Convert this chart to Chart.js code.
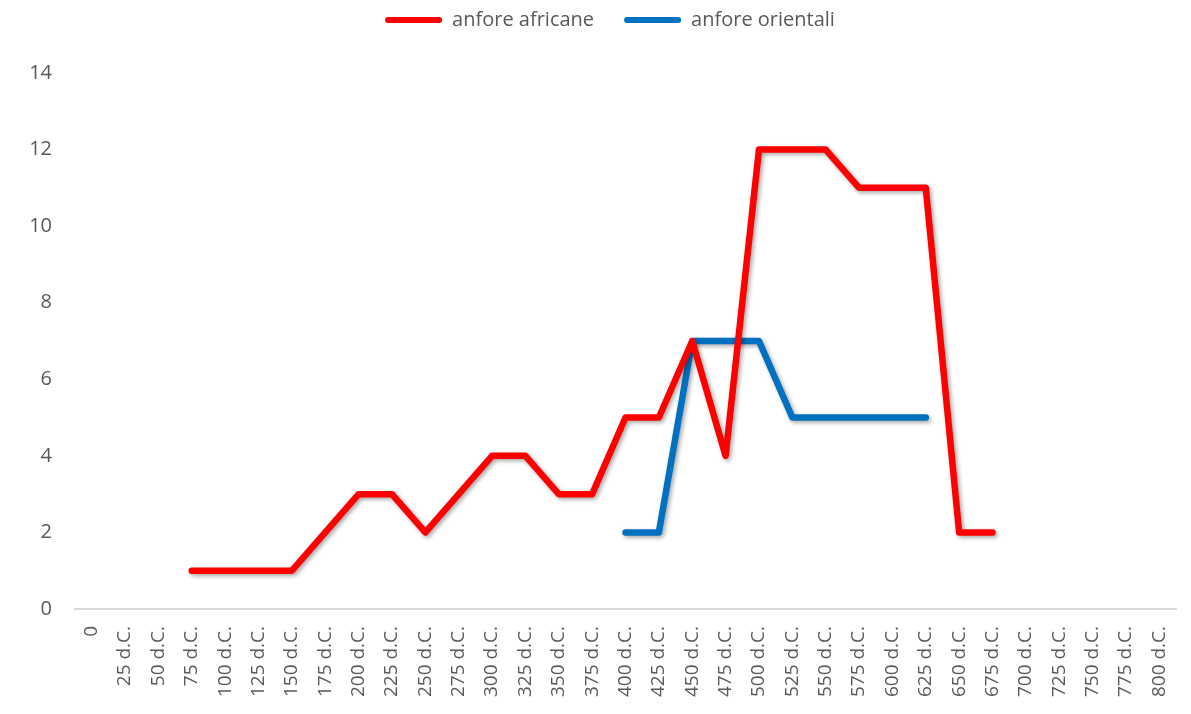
<!DOCTYPE html>
<html>
<head>
<meta charset="utf-8">
<script src="https://cdn.jsdelivr.net/npm/chart.js@4"></script>
<style>
    html, body { margin: 0; padding: 0; background: #fff; }
    #wrap { width: 1191px; height: 714px; }
</style>
</head>
<body>
<div id="wrap"><canvas id="myChart" width="1191" height="714"></canvas></div>
<script>
'use strict';

// categorie asse x
var labels = ['0', '25 d.C.', '50 d.C.', '75 d.C.', '100 d.C.', '125 d.C.', '150 d.C.', '175 d.C.',
    '200 d.C.', '225 d.C.', '250 d.C.', '275 d.C.', '300 d.C.', '325 d.C.', '350 d.C.', '375 d.C.',
    '400 d.C.', '425 d.C.', '450 d.C.', '475 d.C.', '500 d.C.', '525 d.C.', '550 d.C.', '575 d.C.',
    '600 d.C.', '625 d.C.', '650 d.C.', '675 d.C.', '700 d.C.', '725 d.C.', '750 d.C.', '775 d.C.',
    '800 d.C.'];

var africane = [null, null, null, 1, 1, 1, 1, 2, 3, 3, 2, 3, 4, 4, 3, 3, 5, 5, 7, 4, 12, 12, 12, 11,
    11, 11, 2, 2, null, null, null, null, null];

var orientali = [null, null, null, null, null, null, null, null, null, null, null, null, null, null,
    null, null, 2, 2, 7, 7, 7, 5, 5, 5, 5, 5, null, null, null, null, null, null, null];

var yTicks = [0, 2, 4, 6, 8, 10, 12, 14];

var grey = '#595959';
var fontFam = "'Open Sans', 'Liberation Sans', sans-serif";

// ombra sotto le linee (come in Excel)
var shadowPlugin = {
    id: 'shadow',
    beforeDatasetsDraw: function (chart) {
        var c = chart.ctx;
        c.save();
        c.shadowColor = 'rgba(0,0,0,0.35)';
        c.shadowBlur = 4;
        c.shadowOffsetX = 2;
        c.shadowOffsetY = 2;
    },
    afterDatasetsDraw: function (chart) {
        chart.ctx.restore();
    }
};

// spazio extra sotto la legenda + legenda spostata un po' a destra
var legendSpace = {
    id: 'legendSpace',
    beforeInit: function (chart) {
        var fitOrig = chart.legend.fit;
        chart.legend.fit = function () {
            fitOrig.bind(chart.legend)();
            this.height += 33;
        };
    },
    afterLayout: function (chart) {
        chart.legend.left += 44;
    }
};

var ctx = document.getElementById('myChart').getContext('2d');

var chart = new Chart(ctx, {
    type: 'line',
    data: {
        labels: labels,
        datasets: [{
            label: 'anfore africane',
            data: africane,
            borderColor: '#ff0000',
            backgroundColor: '#ff0000',
            borderWidth: 6.5,
            borderCapStyle: 'round',
            borderJoinStyle: 'round',
            pointRadius: 0,
            tension: 0
        },
        {
            label: 'anfore orientali',
            data: orientali,
            borderColor: '#0070c0',
            backgroundColor: '#0070c0',
            borderWidth: 6.5,
            borderCapStyle: 'round',
            borderJoinStyle: 'round',
            pointRadius: 0,
            tension: 0
        }]
    },
    options: {
        responsive: false,
        animation: false,
        layout: {
            padding: { left: 0, right: 15, top: -20, bottom: 0 }
        },
        plugins: {
            legend: {
                position: 'top',
                labels: {
                    boxWidth: 57,
                    boxHeight: 6,
                    padding: 30,
                    color: grey,
                    font: { family: fontFam, size: 20 },
                    generateLabels: function (ch) {
                        return ch.data.datasets.map(function (ds, i) {
                            return {
                                text: ds.label,
                                fillStyle: ds.borderColor,
                                strokeStyle: ds.borderColor,
                                lineWidth: 0,
                                borderRadius: 3,
                                fontColor: grey,
                                datasetIndex: i
                            };
                        });
                    }
                }
            },
            tooltip: { enabled: false }
        },
        scales: {
            x: {
                offset: true,
                grid: { display: false, drawTicks: false },
                border: { color: '#d9d9d9', width: 2 },
                ticks: {
                    color: grey,
                    font: { family: fontFam, size: 19 },
                    minRotation: 90,
                    maxRotation: 90,
                    padding: 17,
                    autoSkip: false
                },
                afterFit: function (axis) {
                    axis.height = 105;
                    axis.paddingLeft = 0;
                    axis.paddingRight = 0;
                }
            },
            y: {
                min: 0,
                max: 14,
                afterBuildTicks: function (axis) {
                    axis.ticks = yTicks.map(function (v) { return { value: v }; });
                },
                grid: { display: false, drawTicks: false },
                border: { display: false },
                ticks: {
                    color: grey,
                    font: { family: fontFam, size: 20 },
                    padding: 23
                },
                afterFit: function (axis) {
                    axis.width = 75;
                }
            }
        }
    },
    plugins: [shadowPlugin, legendSpace]
});
</script>
</body>
</html>
